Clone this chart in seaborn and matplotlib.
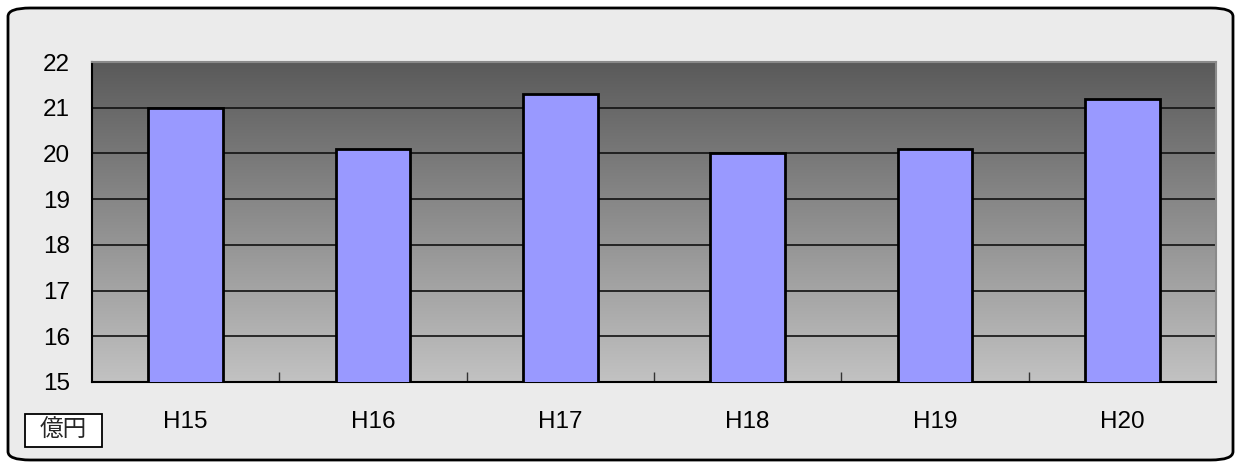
import numpy as np
import pandas as pd
import matplotlib
matplotlib.use("Agg")
import matplotlib.pyplot as plt
import seaborn as sns
from matplotlib.patches import FancyBboxPatch, Rectangle
from matplotlib.colors import LinearSegmentedColormap

categories = ["H15", "H16", "H17", "H18", "H19", "H20"]
values = [21.0, 20.1, 21.3, 20.0, 20.1, 21.2]
yticks = [15, 16, 17, 18, 19, 20, 21, 22]
unit_label = "億円"

sns.set_theme(style="white")
plt.rcParams['font.family'] = ['Liberation Sans', 'Noto Sans CJK JP', 'DejaVu Sans']

W, H = 1241, 468
fig = plt.figure(figsize=(W / 100, H / 100), dpi=100)
fig.patch.set_facecolor("white")

# rounded outer frame
frame = FancyBboxPatch((8 / W, 8 / H), (W - 16) / W, (H - 16) / H,
                       boxstyle="round,pad=0,rounding_size=0.018",
                       transform=fig.transFigure, facecolor="#ebebeb",
                       edgecolor="black", linewidth=2, zorder=-10)
fig.patches.append(frame)

ax = fig.add_axes([92 / W, (H - 382) / H, (1216 - 92) / W, (382 - 62) / H])
ax.set_zorder(5)
ax.set_facecolor("none")

df = pd.DataFrame({"cat": categories, "val": values})
sns.barplot(data=df, x="cat", y="val", ax=ax, color="#9999ff", width=0.4,
            saturation=1, edgecolor="black", linewidth=2, zorder=3)

# gradient background
cmap = LinearSegmentedColormap.from_list("g", ["#5a5a5a", "#c2c2c2"])
grad = np.linspace(0, 1, 256).reshape(-1, 1)
ax.imshow(grad, cmap=cmap, aspect="auto", extent=[-0.5, len(categories) - 0.5, 15, 22],
          zorder=0, origin="upper")
ax.set_ylim(15, 22)
ax.set_xlim(-0.5, len(categories) - 0.5)

ax.set_yticks(yticks)
ax.set_yticklabels([str(t) for t in yticks], fontsize=17.5, color="black")
for y in yticks[1:-1]:
    ax.axhline(y, color="#111111", linewidth=1.2, zorder=1)

ax.set_xticks(range(len(categories)))
ax.set_xticklabels(categories, fontsize=17.5, color="black")
ax.tick_params(axis="x", which="major", length=0, pad=21)
ax.tick_params(axis="y", length=0, pad=16)
ax.set_xticks([i + 0.5 for i in range(len(categories) - 1)], minor=True)
ax.tick_params(axis="x", which="minor", bottom=True, direction="in", length=7,
               color="#333333", width=1)

ax.set_xlabel("")
ax.set_ylabel("")
for s in ["left", "bottom"]:
    ax.spines[s].set_color("black")
    ax.spines[s].set_linewidth(1.5)
    ax.spines[s].set_visible(True)
for s in ["top", "right"]:
    ax.spines[s].set_color("#8a8a8a")
    ax.spines[s].set_linewidth(1.5)
    ax.spines[s].set_visible(True)

# unit label box
box = Rectangle((25 / W, 1 - 447 / H), 77 / W, 33 / H, transform=fig.transFigure,
                facecolor="white", edgecolor="black", linewidth=1.3, zorder=6)
fig.patches.append(box)
fig.text(63.5 / W, 1 - 430 / H, unit_label, ha="center", va="center", fontsize=17,
         family=['Noto Sans CJK JP'], zorder=7)

fig.savefig("out.png", dpi=100, facecolor=fig.get_facecolor())
